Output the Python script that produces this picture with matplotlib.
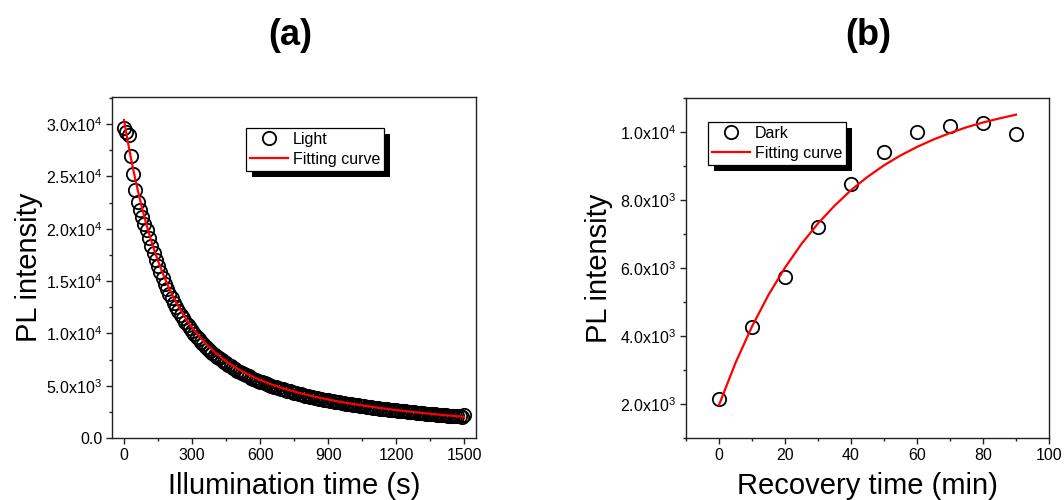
import matplotlib
matplotlib.use("Agg")
import matplotlib.pyplot as plt
from matplotlib.ticker import FixedLocator, FixedFormatter, MultipleLocator
from matplotlib.patches import Rectangle

plt.rcParams['font.family'] = ['Liberation Sans', 'DejaVu Sans']
plt.rcParams['mathtext.fontset'] = 'custom'
plt.rcParams['mathtext.rm'] = 'Liberation Sans'
plt.rcParams['mathtext.it'] = 'Liberation Sans:italic'
plt.rcParams['mathtext.bf'] = 'Liberation Sans:bold'

# ---------------- data: panel (a) ----------------
light_time = list(range(0, 1501, 10))
light_pl = [
    29600, 29300, 29000, 27000, 25200, 23700, 22600, 21800, 21100, 20500,
    19900, 19080, 18370, 17690, 17050, 16430, 15850, 15300, 14770, 14270,
    13790, 13350, 12920, 12520, 12140, 11780, 11440, 11110, 10800, 10500,
    10210, 9940, 9680, 9430, 9190, 8960, 8740, 8530, 8330, 8140,
    7960, 7780, 7610, 7450, 7290, 7140, 6990, 6850, 6710, 6580,
    6450, 6330, 6210, 6100, 5990, 5880, 5780, 5680, 5580, 5490,
    5400, 5310, 5230, 5140, 5060, 4990, 4920, 4850, 4770, 4700,
    4640, 4570, 4510, 4450, 4390, 4330, 4270, 4220, 4160, 4110,
    4060, 4010, 3960, 3910, 3860, 3820, 3770, 3730, 3680, 3640,
    3600, 3560, 3520, 3480, 3440, 3400, 3370, 3330, 3290, 3260,
    3230, 3190, 3160, 3130, 3090, 3060, 3030, 3000, 2970, 2940,
    2910, 2880, 2850, 2820, 2800, 2770, 2740, 2720, 2690, 2660,
    2640, 2610, 2590, 2560, 2540, 2520, 2490, 2470, 2450, 2420,
    2400, 2380, 2360, 2340, 2320, 2300, 2280, 2260, 2240, 2220,
    2200, 2180, 2160, 2140, 2120, 2110, 2090, 2070, 2060, 2040,
    2200,
]
light_fit_time = [0, 10, 20, 30, 40, 50, 60, 70, 80, 90, 100, 110, 120, 130,
                  140, 150, 160, 170, 180, 190, 200, 210, 220, 230, 240, 250,
                  260, 270, 280, 290, 300, 350, 400, 450, 500, 550, 600, 650,
                  700, 750, 800, 850, 900, 950, 1000, 1050, 1100, 1150, 1200,
                  1250, 1300, 1350, 1400, 1450, 1500]
light_fit_pl = [30400, 29140, 27950, 26810, 25740, 24720, 23750, 22830, 21950,
                21120, 20330, 19580, 18870, 18190, 17550, 16930, 16350, 15800,
                15270, 14760, 14280, 13830, 13390, 12980, 12580, 12210, 11850,
                11500, 11170, 10860, 10560, 9250, 8200, 7340, 6630, 6040, 5550,
                5120, 4760, 4440, 4160, 3910, 3680, 3470, 3290, 3120, 2960,
                2810, 2670, 2550, 2430, 2320, 2210, 2120, 2020]

a_xticks = [0, 300, 600, 900, 1200, 1500]
a_xticklabels = ['0', '300', '600', '900', '1200', '1500']
a_yticks = [0, 5000, 10000, 15000, 20000, 25000, 30000]
a_yticklabels = ['0.0', '5.0x10$^3$', '1.0x10$^4$', '1.5x10$^4$',
                 '2.0x10$^4$', '2.5x10$^4$', '3.0x10$^4$']

# ---------------- data: panel (b) ----------------
dark_time = [0, 10, 20, 30, 40, 50, 60, 70, 80, 90]
dark_pl = [2160, 4270, 5730, 7220, 8480, 9410, 10000, 10190, 10260, 9930]
dark_fit_time = [0, 5, 10, 15, 20, 25, 30, 35, 40, 45, 50, 55, 60, 65, 70,
                 75, 80, 85, 90]
dark_fit_pl = [1970, 3210, 4280, 5210, 6010, 6710, 7310, 7830, 8290, 8680,
               9020, 9310, 9560, 9780, 9970, 10140, 10280, 10400, 10510]

b_xticks = [0, 20, 40, 60, 80, 100]
b_xticklabels = ['0', '20', '40', '60', '80', '100']
b_yticks = [2000, 4000, 6000, 8000, 10000]
b_yticklabels = ['2.0x10$^3$', '4.0x10$^3$', '6.0x10$^3$', '8.0x10$^3$',
                 '1.0x10$^4$']

# ---------------- figure ----------------
W, H = 1064, 500
fig = plt.figure(figsize=(W / 100, H / 100), dpi=100)
fig.patch.set_facecolor('white')

def px_axes(l, t, r, b):
    return fig.add_axes([l / W, 1 - b / H, (r - l) / W, (b - t) / H])

axA = px_axes(112, 97, 476, 438)
axB = px_axes(686, 98, 1049, 438)

tick_fs = 11.5
label_fs = 21
leg_fs = 11.5

def style(ax):
    for s in ax.spines.values():
        s.set_linewidth(1.0)
        s.set_color('#222222')
    ax.tick_params(which='both', direction='out', top=False, right=False,
                   labelsize=tick_fs, width=1.0, color='#222222', pad=3)
    ax.tick_params(which='major', length=4)
    ax.tick_params(which='minor', length=2.5)

# panel (a)
axA.plot(light_time, light_pl, linestyle='none', marker='o', ms=9.6,
         mfc='none', mec='black', mew=1.3, label='Light', zorder=3)
axA.plot(light_fit_time, light_fit_pl, color='#ff0000', lw=1.6,
         label='Fitting curve', zorder=4)
axA.set_xlim(-53, 1552)
axA.set_ylim(0, 32600)
axA.xaxis.set_major_locator(FixedLocator(a_xticks))
axA.xaxis.set_major_formatter(FixedFormatter(a_xticklabels))
axA.xaxis.set_minor_locator(MultipleLocator(150))
axA.yaxis.set_major_locator(FixedLocator(a_yticks))
axA.yaxis.set_major_formatter(FixedFormatter(a_yticklabels))
axA.yaxis.set_minor_locator(MultipleLocator(2500))
style(axA)
axA.set_xlabel('Illumination time (s)', fontsize=label_fs, labelpad=7)
axA.set_ylabel('PL intensity', fontsize=label_fs, labelpad=2)

# panel (b)
axB.plot(dark_time, dark_pl, linestyle='none', marker='o', ms=9.6,
         mfc='none', mec='black', mew=1.3, label='Dark', zorder=3)
axB.plot(dark_fit_time, dark_fit_pl, color='#ff0000', lw=1.6,
         label='Fitting curve', zorder=4)
axB.set_xlim(-10, 100)
axB.set_ylim(1000, 11000)
axB.xaxis.set_major_locator(FixedLocator(b_xticks))
axB.xaxis.set_major_formatter(FixedFormatter(b_xticklabels))
axB.xaxis.set_minor_locator(MultipleLocator(10))
axB.yaxis.set_major_locator(FixedLocator(b_yticks))
axB.yaxis.set_major_formatter(FixedFormatter(b_yticklabels))
axB.yaxis.set_minor_locator(MultipleLocator(1000))
style(axB)
axB.set_xlabel('Recovery time (min)', fontsize=label_fs, labelpad=7)
axB.set_ylabel('PL intensity', fontsize=label_fs, labelpad=5)

fig.text(290 / W, 1 - 35 / H, '(a)', fontsize=26, fontweight='bold',
         ha='center', va='center')
fig.text(868 / W, 1 - 35 / H, '(b)', fontsize=26, fontweight='bold',
         ha='center', va='center')

def make_legend(ax, anchor):
    leg = ax.legend(loc='upper left', bbox_to_anchor=anchor, fontsize=leg_fs,
                    frameon=True, fancybox=False, shadow=False, framealpha=1,
                    edgecolor='black', borderpad=0.25, labelspacing=0.3,
                    handlelength=2.4, handletextpad=0.3, borderaxespad=0)
    leg.get_frame().set_linewidth(0.9)
    leg.set_zorder(10)
    return leg

legA = make_legend(axA, ((246 - 112) / 364, (438 - 128) / 341))
legB = make_legend(axB, ((708 - 686) / 363, (438 - 122) / 340))

fig.canvas.draw()
for ax, leg in ((axA, legA), (axB, legB)):
    bb = leg.get_window_extent()
    inv = ax.transAxes.inverted()
    (x0, y0) = inv.transform((bb.x0 + 6, bb.y0 - 6))
    (x1, y1) = inv.transform((bb.x1 + 6, bb.y1 - 6))
    ax.add_patch(Rectangle((x0, y0), x1 - x0, y1 - y0, transform=ax.transAxes,
                           facecolor='black', edgecolor='none', zorder=9,
                           clip_on=False))

fig.savefig('out.png', dpi=100)
